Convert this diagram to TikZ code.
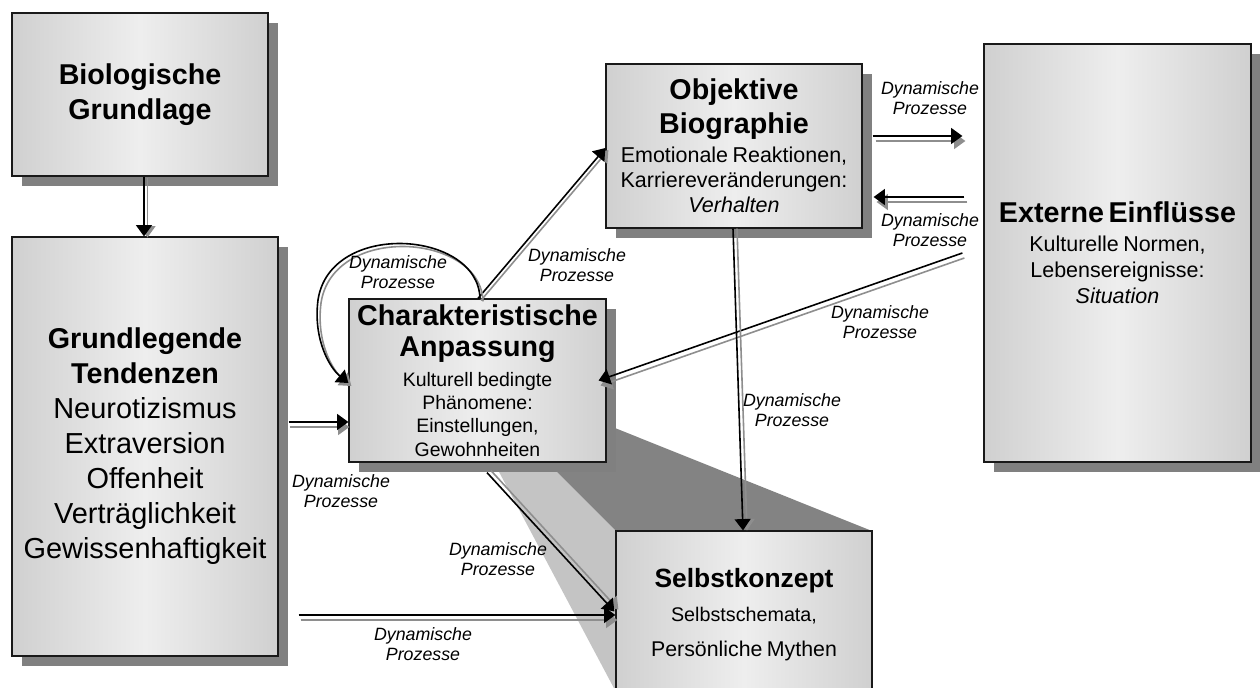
\documentclass[tikz,border=0pt]{standalone}
\usepackage{fontspec}
\setmainfont{Liberation Sans}
\usetikzlibrary{arrows.meta,calc,shadows}

\definecolor{shadowgray}{HTML}{808080}
\definecolor{linegray}{HTML}{8E8E8E}
\definecolor{edgegray}{HTML}{D0D0D0}
\definecolor{midgray}{HTML}{EEEEEE}
\definecolor{panelgray}{HTML}{C4C4C4}
\definecolor{extrudegray}{HTML}{838383}

% font size with explicit line distance
\newcommand\fsize[2]{\fontsize{#1}{#2}\selectfont}
% connector: grey offset copy first, black line on top
\newcommand\dynconn[2]{%
  \draw[connshadow, transform canvas={shift={#1}}] #2;
  \draw[conn] #2;}

\begin{document}
\begin{tikzpicture}[x=0.75pt, y=-0.75pt,
  card/.style={draw=black!90, line width=0.9pt, inner sep=0pt, align=center,
    left color=edgegray, right color=edgegray, middle color=midgray},
  shadowed/.style={drop shadow={shadow xshift=7.5pt, shadow yshift=-7.5pt,
    fill=shadowgray, opacity=1}},
  conn/.style={draw=black, line width=1.2pt, -{Triangle[length=8.5pt,width=12pt]}},
  connshadow/.style={draw=linegray, line width=1.2pt, -{Triangle[length=8.5pt,width=12pt]}},
  lbl/.style={font=\fsize{13.35}{15.4}\itshape, align=center, inner sep=0pt}]

\path[use as bounding box, clip] (0,0) rectangle (1260,688);

% extrusion from "Charakteristische Anpassung" towards "Selbstkonzept"
\fill[panelgray] (498,470) -- (555,470) -- (616,531) -- (616,692) -- cycle;
\fill[extrudegray] (560,406) -- (872,531) -- (616,531) -- (555,470) -- cycle;

% boxes
\node[card, shadowed, text width=192pt, minimum height=122.25pt] (bio) at (140,94.5)
  {\fsize{21.5}{26.25}\bfseries Biologische\\Grundlage\par};

\node[card, shadowed, text width=199.5pt, minimum height=314.25pt] (grund) at (145,446.5)
  {{\fsize{21.5}{26.25}\bfseries Grundlegende\\Tendenzen\par}%
   {\fsize{21.7}{26.25}Neurotizismus\\Extraversion\\Offenheit\\Verträglichkeit\\Gewissenhaftigkeit\par}};

\node[card, shadowed, text width=192.75pt, minimum height=122.25pt] (anp) at (477.5,380.5)
  {{\fsize{21.5}{23.25}\bfseries Charakteristische\\Anpassung\par}\vskip5pt%
   {\fsize{14.6}{17.5}Kulturell bedingte\\Phänomene:\\Einstellungen,\\Gewohnheiten\par}};

\node[card, shadowed, text width=192pt, minimum height=123pt] (obj) at (734,146)
  {{\fsize{21.5}{25.5}\bfseries Objektive\\Biographie\par}\vskip3pt%
   {\fsize{16.1}{18.75}Emotionale Reaktionen,\\Karriereveränderungen:\\\textit{Verhalten}\par}};

\node[card, shadowed, text width=200.25pt, minimum height=313.5pt] (ext) at (1117.5,253)
  {{\fsize{21.5}{25}\bfseries Externe Einflüsse\par}\vskip2.25pt%
   {\fsize{16.1}{19.5}Kulturelle Normen,\\Lebensereignisse:\\\textit{Situation}\par}};

\node[card, text width=192pt, minimum height=141.75pt] (selbst) at (744,625.5) {};
\node[inner sep=0pt, text width=192pt, align=center] (selbstText) at ($(selbst.north)+(0,84)$)
  {{\fsize{19.8}{25}\bfseries Selbstkonzept\par}%
   {\fsize{14.8}{25.5}Selbstschemata,\par}%
   {\fsize{16}{26.25}Persönliche Mythen\par}};

% connectors
\dynconn{(3.5,1)}{($(bio.south)+(4,0)$) -- ($(grund.north)+(-1,0)$)}
\dynconn{(1,5)}{($(grund.east)+(10,-24.5)$) -- ($(anp.west)+(0,41.5)$)}
\dynconn{(2,5)}{($(grund.east)+(20,168.5)$) -- ($(selbst.west)+(0,-10.5)$)}
\dynconn{(4,-2)}{($(anp.south)+(9.5,10)$) -- ($(selbst.west)+(-1,-14)$)}
\dynconn{(3,2)}{($(anp.north)+(0.5,0)$) -- ($(obj.west)+(0,2)$)}
\dynconn{(3,3)}{($(anp.north)+(2.5,0)$) .. controls (478,230) and (330,220) .. (318,300)
  .. controls (313,340) and (330,368) .. ($(anp.west)+(0,2.5)$)}
\dynconn{(3,5)}{($(obj.east)+(10,-10)$) -- ($(ext.west)+(-21,-117)$)}
\dynconn{(3,5)}{($(ext.west)+(-19,-56)$) -- ($(obj.east)+(11,51)$)}
\dynconn{(2,5)}{($(ext.west)+(-21,0)$) -- ($(anp.east)+(-8,0)$)}
\dynconn{(4,0)}{($(obj.south)+(-1,0)$) -- ($(selbst.north)+(-1,0)$)}

% connector labels
\node[lbl] (lblGA) at (341,491) {Dynamische\\Prozesse};
\node[lbl] (lblGS) at (423,644) {Dynamische\\Prozesse};
\node[lbl] (lblAS) at (498,559) {Dynamische\\Prozesse};
\node[lbl] (lblAO) at (577,265) {Dynamische\\Prozesse};
\node[lbl] (lblAA) at (398,272) {Dynamische\\Prozesse};
\node[lbl] (lblOE) at (930,98) {Dynamische\\Prozesse};
\node[lbl] (lblEO) at (930,230) {Dynamische\\Prozesse};
\node[lbl] (lblEA) at (880,322) {Dynamische\\Prozesse};
\node[lbl] (lblOS) at (792,410) {Dynamische\\Prozesse};

\end{tikzpicture}
\end{document}
